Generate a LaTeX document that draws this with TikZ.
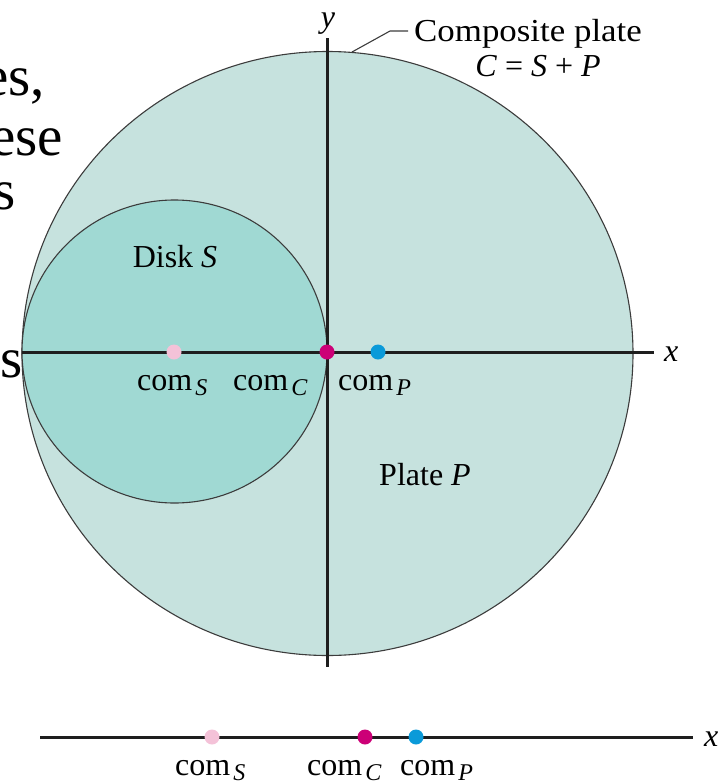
\documentclass[tikz,border=0pt]{standalone}
\usepackage{fontspec}
\setmainfont{Liberation Serif}
\usetikzlibrary{shapes.geometric}
\definecolor{plate}{HTML}{C6E2DE}
\definecolor{disk}{HTML}{A0D9D3}
\definecolor{edgec}{HTML}{3C3C3C}
\definecolor{axisc}{HTML}{1E1E1E}
\definecolor{comS}{HTML}{F4C2D8}
\definecolor{comC}{HTML}{CC0077}
\definecolor{comP}{HTML}{0A9AD9}
\newcommand{\comlab}[1]{com\raisebox{-0.35ex}{\fontsize{24}{24}\selectfont\kern3pt\textit{#1}}}
\begin{document}
\begin{tikzpicture}[x=1pt,y=-1pt,
  bgtext/.style={inner sep=0, font=\fontsize{57}{60}\selectfont},
  lab/.style={inner sep=0, font=\fontsize{32}{36}\selectfont},
  outline/.style={draw=edgec, line width=1.1pt, inner sep=0},
  axisline/.style={draw=axisc, line width=3pt},
  dot/.style={circle, inner sep=0, minimum size=15pt}]
\useasboundingbox (0,0) rectangle (722,782);
\clip (0,0) rectangle (722,782);
% background text fragments
\node[bgtext, anchor=base east] (t1) at (45,95) {es,};
\node[bgtext, anchor=base east] (t2) at (63,155) {ese};
\node[bgtext, anchor=base east] (t3) at (16,209) {s};
\node[bgtext, anchor=base east] (t4) at (23,377) {s};
% plates
\node[ellipse, outline, fill=plate, minimum width=611pt, minimum height=604pt] (plate) at (327.5,353.5) {};
\node[ellipse, outline, fill=disk, minimum width=305pt, minimum height=303pt] (disk) at (174.5,351.5) {};
% axes
\coordinate (xa0) at (22,352);
\coordinate (xa1) at (654,352);
\coordinate (ya0) at (327,38);
\coordinate (ya1) at (327,667);
\draw[axisline] (xa0) -- (xa1);
\draw[axisline] (ya0) -- (ya1);
\node[lab, anchor=base west] (xl) at (664,361) {\textit{x}};
\node[lab, anchor=base] (yl) at (328,27) {\textit{y}};
% dots
\node[dot, fill=comS] (cs) at (174,352) {};
\node[dot, fill=comC] (cc) at (327,352) {};
\node[dot, fill=comP] (cp) at (378,352) {};
\node[lab, anchor=base west] (ls) at (137,390) {\comlab{S}};
\node[lab, anchor=base west] (lc) at (233,390) {\comlab{C}};
\node[lab, anchor=base west] (lp) at (338,390) {\comlab{P}};
% labels
\node[lab, anchor=base] (dl) at (175,267) {Disk \textit{S}};
\node[lab, anchor=base] (pl) at (425,485) {Plate \textit{P}};
\node[lab, anchor=base west] (cl1) at (414,41) {\scalebox{1.09}[1]{Composite plate}};
\node[lab, anchor=base] (cl2) at (538,76) {\textit{C} = \textit{S} + \textit{P}};
\coordinate (ld0) at (352,52);
\coordinate (ld1) at (390,31);
\coordinate (ld2) at (408,31);
\draw[edgec, line width=1.1pt] (ld0) -- (ld1) -- (ld2);
% bottom line
\coordinate (b0) at (40,737);
\coordinate (b1) at (693,737);
\draw[axisline] (b0) -- (b1);
\node[lab, anchor=base west] (bx) at (704,746) {\textit{x}};
\node[dot, fill=comS] (bs) at (212,737) {};
\node[dot, fill=comC] (bc) at (365,737) {};
\node[dot, fill=comP] (bp) at (416,737) {};
\node[lab, anchor=base west] (bls) at (175,775) {\comlab{S}};
\node[lab, anchor=base west] (blc) at (307,775) {\comlab{C}};
\node[lab, anchor=base west] (blp) at (400,775) {\comlab{P}};
\end{tikzpicture}
\end{document}
